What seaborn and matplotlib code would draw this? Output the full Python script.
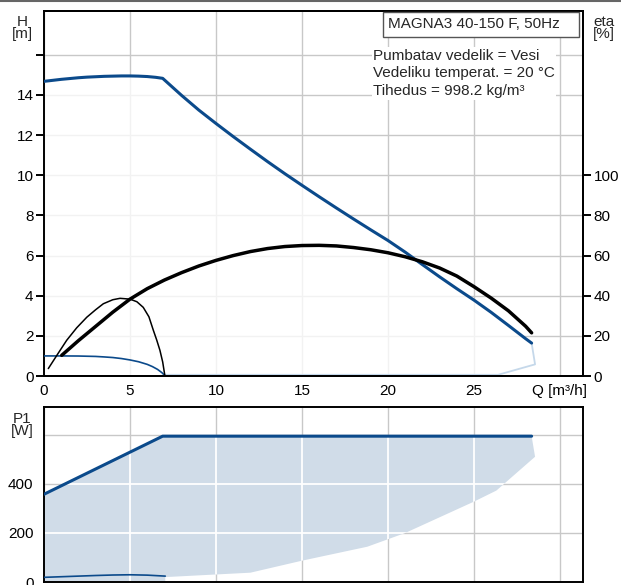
import numpy as np
import pandas as pd
import matplotlib
matplotlib.use('Agg')
import matplotlib.pyplot as plt
import seaborn as sns
from matplotlib.patches import Polygon, Rectangle
from matplotlib.lines import Line2D

# ---- data ----
# head curves [m] vs flow Q [m3/h]
q_hmax = [0, 0.5, 1, 1.5, 2, 2.5, 3, 3.5, 4, 4.5, 5, 5.5, 6, 6.5, 6.9,
          8, 9, 10, 11, 12, 13, 14, 15, 16, 17, 18, 19, 20, 21, 22, 23, 24, 25, 26, 27, 28, 28.35]
h_max = [14.68, 14.73, 14.78, 14.82, 14.86, 14.89, 14.91, 14.93, 14.94, 14.95, 14.95, 14.94, 14.92, 14.88, 14.83,
         13.98, 13.25, 12.58, 11.93, 11.3, 10.68, 10.08, 9.5, 8.93, 8.37, 7.82, 7.28, 6.75, 6.17, 5.55,
         4.94, 4.35, 3.78, 3.17, 2.52, 1.86, 1.64]
q_hmin = [0, 1, 2, 3, 3.5, 4, 4.5, 5, 5.5, 6, 6.3, 6.6, 6.85, 7.05]
h_min = [1.0, 1.0, 0.995, 0.975, 0.95, 0.92, 0.87, 0.8, 0.71, 0.58, 0.47, 0.33, 0.17, 0.0]
q_edge = [28.35, 28.55, 26.4, 7.05]
h_edge = [1.64, 0.58, 0.06, 0.06]

# efficiency eta [%]
q_eta_max = [1.03, 2, 3, 4, 5, 6, 7, 8, 9, 10, 11, 12, 13, 14, 15, 16, 17, 18, 19, 20,
             21, 22, 23, 24, 25, 26, 27, 28, 28.35]
eta_max = [10.3, 17.6, 24.7, 31.8, 38.3, 43.5, 47.8, 51.5, 54.8, 57.6, 60, 62, 63.5, 64.5, 65, 65.1,
           64.8, 64, 62.9, 61.4, 59.4, 56.9, 53.8, 49.8, 44.5, 38.8, 32.5, 24.8, 21.5]
q_eta_min = [0.25, 0.8, 1.32, 1.9, 2.49, 3.0, 3.45, 4.0, 4.42, 5.0, 5.4, 5.77, 6.1, 6.36, 6.55, 6.74, 6.9, 7.03]
eta_min = [3.7, 11, 17.8, 24, 29.3, 33, 36, 38, 38.7, 38.3, 37, 34.2, 29.5, 22.7, 18, 12.8, 7, 0]

# power P1 [W]
q_pmax = [0, 6.9, 28.35]
p_max = [358, 595, 595]
q_pmin = [0, 1, 2, 3, 4, 5, 6, 7.05]
p_min = [19, 21.5, 24, 26.5, 28.5, 29.5, 28, 24]
q_pedge = [28.35, 28.55, 26.3, 25, 21, 18.8, 15, 12, 7.05, 7.05]
p_pedge = [595, 511, 373, 328, 200, 144, 87, 38, 20, 0]

h_ticks = [0, 2, 4, 6, 8, 10, 12, 14, 16]
h_labels = ['0', '2', '4', '6', '8', '10', '12', '14', '']
eta_ticks = [0, 20, 40, 60, 80, 100]
q_ticks = [0, 5, 10, 15, 20, 25, 30]
q_labels = ['0', '5', '10', '15', '20', '25', 'Q [m³/h]']
p_ticks = [0, 200, 400, 600]
p_labels = ['0', '200', '400', '']

info_lines = ['Pumbatav vedelik = Vesi', 'Vedeliku temperat. = 20 °C', 'Tihedus = 998.2 kg/m³']
title_txt = 'MAGNA3 40-150 F, 50Hz'

# ---- style ----
sns.set_style('white')
plt.rcParams['font.family'] = ['Liberation Sans', 'DejaVu Sans']

DARK = '#0b4a8b'
LIGHT = '#c5d8ea'
FILL = '#d0dce8'
GRID = '#c8c8c8'
FS = 11

W, H = 621, 585
fig = plt.figure(figsize=(W / 100, H / 100), dpi=100)


def box(l, t, r, b):
    return [l / W, 1 - b / H, (r - l) / W, (b - t) / H]


XMAX = (583 - 44) / 17.2
ax = fig.add_axes(box(44, 10.7, 583, 376))
ax2 = ax.twinx()
ax3 = fig.add_axes(box(44, 407, 583, 582))

# ---- top panel ----
ax.set_xlim(0, XMAX)
ax.set_ylim(0, 18.2)
ax2.set_ylim(0, 182)
for v in q_ticks:
    ax.axvline(v, color=GRID, lw=1, zorder=0)
for v in h_ticks:
    ax.axhline(v, color=GRID, lw=1, zorder=0)

region = np.column_stack([q_hmax + q_edge + [0], h_max + h_edge + [0]])
poly = Polygon(region, closed=True, facecolor='white', edgecolor='none', zorder=0.5)
ax.add_patch(poly)
for v in q_ticks:
    ln = ax.axvline(v, color='#f2f2f2', lw=1, zorder=0.6)
    ln.set_clip_path(poly)
for v in h_ticks:
    ln = ax.axhline(v, color='#f2f2f2', lw=1, zorder=0.6)
    ln.set_clip_path(poly)

sns.lineplot(x=q_edge, y=h_edge, ax=ax, color=LIGHT, lw=1.3, sort=False, estimator=None, zorder=2)
sns.lineplot(x=q_hmin, y=h_min, ax=ax, color=DARK, lw=1.2, sort=False, estimator=None, zorder=3)
sns.lineplot(x=q_hmax, y=h_max, ax=ax, color=DARK, lw=2.2, sort=False, estimator=None, zorder=3)

sns.lineplot(x=q_eta_min, y=eta_min, ax=ax2, color='black', lw=1.1, sort=False, estimator=None)
sns.lineplot(x=q_eta_max, y=eta_max, ax=ax2, color='black', lw=2.5, sort=False, estimator=None)

ax.set_xticks(q_ticks)
ax.set_xticklabels(q_labels)
ax.set_yticks(h_ticks)
ax.set_yticklabels(h_labels)
ax2.set_yticks(eta_ticks)
ax2.set_xlim(0, XMAX)

for a in (ax, ax2, ax3):
    for s in a.spines.values():
        s.set_color('black')
        s.set_linewidth(1.4)
    a.tick_params(direction='out', length=5.5, width=1.4, labelsize=FS, pad=2, colors='black')
    a.set_xlabel('')
    a.set_ylabel('')
ax.tick_params(axis='x', length=5, pad=1)
ax2.spines['left'].set_visible(False)

# ---- bottom panel ----
ax3.set_xlim(0, XMAX)
ax3.set_ylim(0, 714)
for v in q_ticks:
    ax3.axvline(v, color=GRID, lw=1, zorder=0)
for v in p_ticks:
    ax3.axhline(v, color=GRID, lw=1, zorder=0)
preg = np.column_stack([q_pmax + q_pedge + [0], p_max + p_pedge + [0]])
ppoly = Polygon(preg, closed=True, facecolor=FILL, edgecolor='none', zorder=0.5)
ax3.add_patch(ppoly)
for v in q_ticks:
    ln = ax3.axvline(v, color='white', lw=1.3, zorder=0.6)
    ln.set_clip_path(ppoly)
for v in p_ticks:
    ln = ax3.axhline(v, color='white', lw=1.3, zorder=0.6)
    ln.set_clip_path(ppoly)
sns.lineplot(x=q_pmin, y=p_min, ax=ax3, color=DARK, lw=1.2, sort=False, estimator=None, zorder=3)
sns.lineplot(x=q_pmax, y=p_max, ax=ax3, color=DARK, lw=2.2, sort=False, estimator=None, zorder=3)
ax3.set_xticks(q_ticks)
ax3.set_xticklabels([])
ax3.tick_params(axis='x', length=0)
ax3.set_yticks(p_ticks)
ax3.set_yticklabels(p_labels)

# ---- texts ----
fig.text(22 / W, 1 - 28 / H, 'H\n[m]', ha='center', va='center', fontsize=FS, linespacing=0.9)
fig.text(604 / W, 1 - 28 / H, 'eta\n[%]', ha='center', va='center', fontsize=FS, linespacing=0.9)
fig.text(22 / W, 1 - 425 / H, 'P1\n[W]', ha='center', va='center', fontsize=FS, linespacing=0.9)

fig.add_artist(Rectangle((383 / W, 1 - 37 / H), (579 - 383) / W, 25 / H, transform=fig.transFigure,
                         facecolor='white', edgecolor='#555555', lw=1, zorder=5))
fig.text(388 / W, 1 - 24.5 / H, title_txt, ha='left', va='center', fontsize=11, zorder=6)
fig.text(373 / W, 1 - 73.5 / H, '\n'.join(info_lines), ha='left', va='center', fontsize=11,
         linespacing=1.33, zorder=6,
         bbox=dict(facecolor='white', edgecolor='none', pad=1))

fig.add_artist(Line2D([0, 1], [1 - 0.7 / H, 1 - 0.7 / H], color='#666666', lw=1.5))

fig.savefig('out.png', dpi=100)
